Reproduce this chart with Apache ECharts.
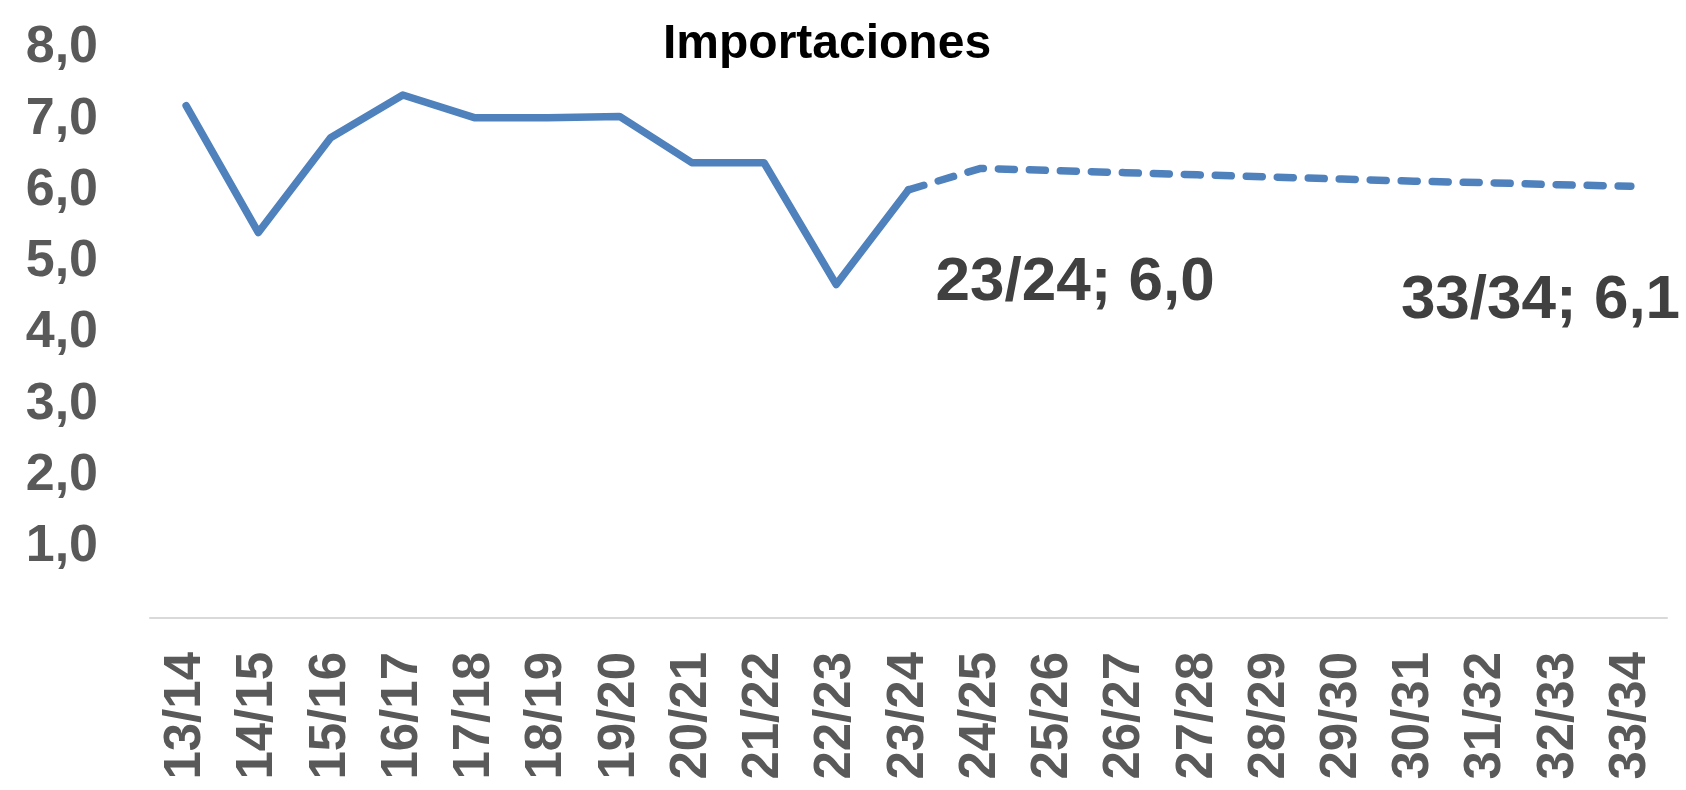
<!DOCTYPE html>
<html>
<head>
<meta charset="utf-8">
<script src="https://cdn.jsdelivr.net/npm/echarts@6/dist/echarts.min.js"></script>
<style>
html,body{margin:0;padding:0;background:#fff;}
#c{width:1686px;height:790px;}
</style>
</head>
<body>
<div id="c"></div>
<script>
const categories = ['13/14','14/15','15/16','16/17','17/18','18/19','19/20','20/21','21/22','22/23','23/24','24/25','25/26','26/27','27/28','28/29','29/30','30/31','31/32','32/33','33/34'];
const historical = [7.19, 5.41, 6.74, 7.34, 7.02, 7.02, 7.04, 6.39, 6.39, 4.68, 6.01, null, null, null, null, null, null, null, null, null, null];
const projection = [null, null, null, null, null, null, null, null, null, null, 6.01, 6.31, 6.28, 6.25, 6.22, 6.19, 6.16, 6.13, 6.11, 6.08, 6.06];
const labeledIndexes = [10, 20];
const yTicks = [0, 1, 2, 3, 4, 5, 6, 7, 8];
const titleText = 'Importaciones';

const fmt = v => v.toFixed(1).replace('.', ',');
const FONT = "'Liberation Sans', Arial, sans-serif";
const COLOR = '#4F81BD';

const labelPos = {10: [27, 93], 20: [-230, 115]};
const projData = projection.map((v, i) => {
  if (labeledIndexes.includes(i)) {
    return {
      value: v,
      label: {
        show: true,
        position: labelPos[i],
        align: 'left',
        verticalAlign: 'middle',
        formatter: categories[i] + '; ' + fmt(v),
        fontFamily: FONT,
        fontWeight: 'bold',
        fontSize: 62,
        color: '#404040'
      }
    };
  }
  return v;
});

const chart = echarts.init(document.getElementById('c'), null, {renderer: 'canvas'});
chart.setOption({
  animation: false,
  backgroundColor: '#ffffff',
  title: {
    text: titleText,
    left: 663,
    top: 21,
    padding: 0,
    textStyle: {fontFamily: FONT, fontWeight: 'bold', fontSize: 48, color: '#000000'}
  },
  grid: {left: 150, right: 19, top: 48, bottom: 172, containLabel: false},
  xAxis: {
    type: 'category',
    data: categories,
    boundaryGap: true,
    axisLine: {show: true, lineStyle: {color: '#D9D9D9', width: 2}},
    axisTick: {show: false},
    axisLabel: {
      interval: 0,
      rotate: 90,
      margin: 34,
      fontFamily: FONT,
      fontWeight: 'bold',
      fontSize: 51,
      color: '#595959'
    },
    splitLine: {show: false}
  },
  yAxis: {
    type: 'value',
    min: yTicks[0],
    max: yTicks[yTicks.length - 1],
    interval: 1,
    axisLine: {show: false},
    axisTick: {show: false},
    splitLine: {show: false},
    axisLabel: {
      margin: 52,
      fontFamily: FONT,
      fontWeight: 'bold',
      fontSize: 52,
      color: '#595959',
      formatter: v => (v === 0 ? '' : fmt(v))
    }
  },
  series: [
    {
      type: 'line',
      data: historical,
      showSymbol: false,
      symbol: 'none',
      lineStyle: {color: COLOR, width: 7.5, cap: 'round', join: 'round'},
      z: 3
    },
    {
      type: 'line',
      data: projData,
      showSymbol: true,
      symbol: 'circle',
      symbolSize: 0,
      itemStyle: {color: COLOR},
      lineStyle: {color: COLOR, width: 7.5, type: [16, 15], cap: 'round', join: 'round'},
      z: 2
    }
  ]
});
</script>
</body>
</html>
